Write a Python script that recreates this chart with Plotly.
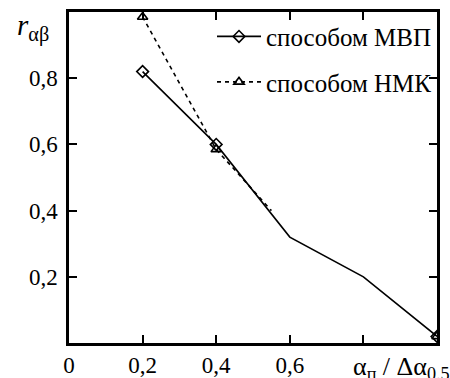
import plotly.graph_objects as go

mvp_x = [0.2, 0.4, 0.6, 0.8, 1.0]
mvp_y = [0.82, 0.60, 0.32, 0.20, 0.02]
mvp_marker_x = [0.2, 0.4, 1.0]
mvp_marker_y = [0.82, 0.60, 0.02]

nmk_x = [0.2, 0.4, 0.55]
nmk_y = [0.985, 0.585, 0.40]
nmk_marker_x = [0.2, 0.4, 1.0]
nmk_marker_y = [0.985, 0.585, 0.02]

x_tickvals = [0, 0.2, 0.4, 0.6, 0.8]
x_ticktext = ["0", "0,2", "0,4", "0,6", " "]
y_tickvals = [0.2, 0.4, 0.6, 0.8]
y_ticktext = ["0,2", "0,4", "0,6", "0,8"]

FONT = "Liberation Serif"

fig = go.Figure()
fig.add_trace(go.Scatter(x=mvp_x, y=mvp_y, mode="lines",
                         line=dict(color="black", width=1.6),
                         showlegend=False))
fig.add_trace(go.Scatter(x=mvp_marker_x, y=mvp_marker_y, mode="markers",
                         marker=dict(symbol="diamond-open", size=9, color="black",
                                     line=dict(width=1.6)),
                         showlegend=False))
fig.add_trace(go.Scatter(x=nmk_x, y=nmk_y, mode="lines",
                         line=dict(color="black", width=1.6, dash="4px,4px"),
                         showlegend=False))
fig.add_trace(go.Scatter(x=nmk_marker_x, y=nmk_marker_y, mode="markers",
                         marker=dict(symbol="triangle-up-open", size=9, color="black",
                                     line=dict(width=1.6)),
                         showlegend=False))
fig.add_trace(go.Scatter(x=[None], y=[None], mode="lines+markers",
                         name="способом МВП", legendgroup="a",
                         line=dict(color="black", width=1.6),
                         marker=dict(symbol="diamond-open", size=9, color="black",
                                     line=dict(width=1.6))))
fig.add_trace(go.Scatter(x=[None], y=[None], mode="lines+markers",
                         name="способом НМК", legendgroup="b",
                         line=dict(color="black", width=1.6, dash="4px,4px"),
                         marker=dict(symbol="triangle-up-open", size=9, color="black",
                                     line=dict(width=1.6))))

axis_common = dict(showgrid=False, zeroline=False, showline=True, linecolor="black",
                   linewidth=2.5, mirror="allticks", ticks="inside", ticklen=8,
                   tickwidth=2, tickcolor="black", automargin=False,
                   tickfont=dict(family=FONT, size=23, color="black"))

fig.update_xaxes(range=[0, 1.0], tickmode="array", tickvals=x_tickvals,
                 ticktext=x_ticktext, ticklabelstandoff=0, **axis_common)
fig.update_yaxes(range=[0, 1.0], tickmode="array", tickvals=y_tickvals,
                 ticktext=y_ticktext, ticklabelstandoff=4, **axis_common)

fig.add_annotation(xref="paper", yref="paper", x=1.04, y=-0.02,
                   xanchor="right", yanchor="top", showarrow=False,
                   text="α<sub>п</sub> / Δα<sub>0.5</sub>",
                   font=dict(family=FONT, size=26, color="black"))
fig.add_annotation(xref="paper", yref="paper", x=-0.05, y=1.015,
                   xanchor="right", yanchor="top", showarrow=False,
                   text="<i>r</i><sub>αβ</sub>",
                   font=dict(family=FONT, size=29, color="black"))

fig.update_layout(
    width=450, height=378,
    margin=dict(l=69, r=13, t=12, b=35),
    paper_bgcolor="white", plot_bgcolor="white",
    font=dict(family=FONT, size=23, color="black"),
    legend=dict(x=1.0, y=0.995, xanchor="right", yanchor="top",
                bgcolor="rgba(0,0,0,0)", borderwidth=0, traceorder="grouped",
                tracegroupgap=10, itemwidth=44,
                font=dict(family=FONT, size=25, color="black")),
)

fig.write_html("out.html", config={"displayModeBar": False},
               post_script="document.body.style.margin='0';")
